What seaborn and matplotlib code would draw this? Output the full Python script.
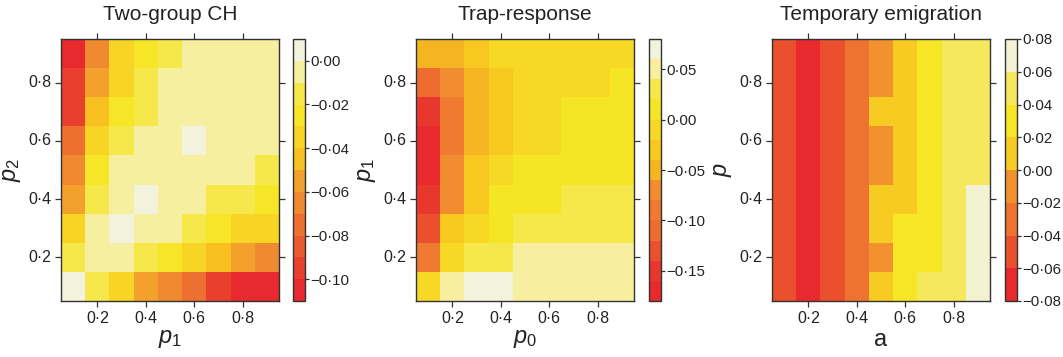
import numpy as np
import pandas as pd
import matplotlib
matplotlib.use('Agg')
import matplotlib.pyplot as plt
from matplotlib.colors import ListedColormap
from matplotlib.ticker import FuncFormatter
import seaborn as sns

# grid of parameter values (columns = x parameter, rows = y parameter, top row = 0.9)
grid = [0.1, 0.2, 0.3, 0.4, 0.5, 0.6, 0.7, 0.8, 0.9]
rows_top_down = grid[::-1]

# Two-group CH: x = p1, y = p2
two_group = [
    [-0.105, -0.065, -0.035, -0.025, -0.015, -0.005, -0.005, -0.005, -0.005],
    [-0.095, -0.055, -0.035, -0.015, -0.005, -0.005, -0.005, -0.005, -0.005],
    [-0.095, -0.045, -0.025, -0.015, -0.005, -0.005, -0.005, -0.005, -0.005],
    [-0.075, -0.035, -0.015, -0.005, -0.005, 0.005, -0.005, -0.005, -0.005],
    [-0.065, -0.025, -0.005, -0.005, -0.005, -0.005, -0.005, -0.005, -0.015],
    [-0.055, -0.015, -0.005, 0.005, -0.005, -0.005, -0.015, -0.015, -0.025],
    [-0.035, -0.005, 0.005, -0.005, -0.005, -0.015, -0.025, -0.035, -0.035],
    [-0.015, -0.005, -0.005, -0.015, -0.025, -0.035, -0.045, -0.055, -0.065],
    [0.005, -0.015, -0.035, -0.055, -0.065, -0.075, -0.095, -0.105, -0.105],
]

# Trap-response: x = p0, y = p1
trap_response = [
    [-0.05, -0.05, -0.03, -0.01, -0.01, -0.01, -0.01, -0.01, -0.01],
    [-0.11, -0.07, -0.05, -0.03, -0.01, -0.01, -0.01, -0.01, 0.01],
    [-0.15, -0.09, -0.05, -0.03, -0.01, -0.01, 0.01, 0.01, 0.01],
    [-0.17, -0.09, -0.05, -0.03, -0.01, -0.01, 0.01, 0.01, 0.01],
    [-0.17, -0.07, -0.03, -0.01, 0.01, 0.01, 0.01, 0.01, 0.01],
    [-0.15, -0.07, -0.03, 0.01, 0.01, 0.01, 0.03, 0.03, 0.03],
    [-0.13, -0.03, -0.01, 0.01, 0.03, 0.03, 0.03, 0.03, 0.03],
    [-0.09, -0.01, 0.03, 0.03, 0.05, 0.05, 0.05, 0.05, 0.05],
    [-0.01, 0.05, 0.07, 0.07, 0.05, 0.05, 0.05, 0.05, 0.05],
]

# Temporary emigration: x = a, y = p
temp_emigration = [
    [-0.05, -0.07, -0.05, -0.03, -0.01, 0.01, 0.03, 0.05, 0.05],
    [-0.05, -0.07, -0.05, -0.03, -0.01, 0.01, 0.03, 0.05, 0.05],
    [-0.05, -0.07, -0.05, -0.03, 0.01, 0.01, 0.03, 0.05, 0.05],
    [-0.05, -0.07, -0.05, -0.03, -0.01, 0.01, 0.03, 0.05, 0.05],
    [-0.05, -0.07, -0.05, -0.03, -0.01, 0.01, 0.03, 0.05, 0.05],
    [-0.05, -0.07, -0.05, -0.03, 0.01, 0.01, 0.03, 0.05, 0.07],
    [-0.05, -0.07, -0.05, -0.03, 0.01, 0.03, 0.03, 0.05, 0.07],
    [-0.05, -0.07, -0.05, -0.03, -0.01, 0.03, 0.03, 0.05, 0.07],
    [-0.05, -0.07, -0.05, -0.03, 0.01, 0.03, 0.05, 0.05, 0.07],
]

pal_two = ['#E8292D', '#E8402D', '#EB5A2F', '#EE7030', '#F08A30', '#F3A02C',
           '#F8C020', '#F8D525', '#F7E628', '#F6E84A', '#F7EFA0', '#F3F2DC']
pal_trap = ['#E8292D', '#E8382D', '#EA4F2E', '#EE6C30', '#EF7A30', '#F18C30', '#F5B523',
            '#F8C820', '#F7D825', '#F5E625', '#F6E84A', '#F7EF9F', '#F3F2DC']
pal_temp = ['#E8292D', '#EA4F2E', '#EE7330', '#F1922E', '#F8CB22', '#F6E626', '#F6E85C', '#F3F2D2']

panels = [
    (two_group, 'Two-group CH', '$p_1$', '$p_2$', -0.11, 0.01, pal_two,
     [-0.10, -0.08, -0.06, -0.04, -0.02, 0.00]),
    (trap_response, 'Trap-response', '$p_0$', '$p_1$', -0.18, 0.08, pal_trap,
     [-0.15, -0.10, -0.05, 0.00, 0.05]),
    (temp_emigration, 'Temporary emigration', 'a', '$p$', -0.08, 0.08, pal_temp,
     [-0.08, -0.06, -0.04, -0.02, 0.00, 0.02, 0.04, 0.06, 0.08]),
]

sns.set_style('ticks')
plt.rcParams['font.family'] = ['Liberation Sans', 'DejaVu Sans']
plt.rcParams['mathtext.fontset'] = 'custom'
plt.rcParams['mathtext.it'] = 'Liberation Sans:italic'
plt.rcParams['mathtext.rm'] = 'Liberation Sans'

edge = '#333333'


def dot_fmt(v, nd):
    s = f"{abs(v):.{nd}f}".replace('.', '\u00b7')
    return ('\u2212' + s) if round(v, nd + 2) < 0 else s


fig = plt.figure(figsize=(10.63, 3.57), dpi=100)
W, H = 1063.0, 357.0
ax_left = [61, 416, 772]
cb_left = [293, 649, 1005]
bottom = 1 - 301 / H
height = 262 / H

for i, (vals, title, xl, yl, vmin, vmax, pal, cticks) in enumerate(panels):
    ax = fig.add_axes([ax_left[i] / W, bottom, 218 / W, height])
    cax = fig.add_axes([cb_left[i] / W, bottom, 12 / W, height])
    df = pd.DataFrame(vals, index=rows_top_down, columns=grid)
    sns.heatmap(df, ax=ax, cbar_ax=cax, cmap=ListedColormap(pal),
                vmin=vmin, vmax=vmax, cbar_kws={'ticks': cticks})

    # ticks at 0.2..0.8 -> cell centres
    xt = [grid.index(v) + 0.5 for v in [0.2, 0.4, 0.6, 0.8]]
    yt = [rows_top_down.index(v) + 0.5 for v in [0.8, 0.6, 0.4, 0.2]]
    ax.set_xticks(xt)
    ax.set_xticklabels([dot_fmt(v, 1) for v in [0.2, 0.4, 0.6, 0.8]], rotation=0)
    ax.set_yticks(yt)
    ax.set_yticklabels([dot_fmt(v, 1) for v in [0.8, 0.6, 0.4, 0.2]], rotation=0)
    ax.tick_params(axis='both', direction='out', length=4, width=0.9, color=edge,
                   labelsize=11.5, labelcolor='#222222', top=True, right=True,
                   labeltop=False, labelright=False, pad=3)
    for sp in ax.spines.values():
        sp.set_visible(True)
        sp.set_color(edge)
        sp.set_linewidth(1.0)
    ax.set_title(title, fontsize=15, color='#222222', pad=14)
    ax.set_xlabel(xl, fontsize=17, color='#222222', labelpad=2)
    ax.set_ylabel(yl, fontsize=17, color='#222222', labelpad=4)

    cb = ax.collections[0].colorbar
    cb.outline.set_visible(True)
    cb.outline.set_edgecolor(edge)
    cb.outline.set_linewidth(1.0)
    cb.set_ticks(cticks)
    cb.ax.yaxis.set_major_formatter(FuncFormatter(lambda v, p: dot_fmt(v, 2)))
    cb.ax.tick_params(direction='out', length=3, width=0.9, color=edge,
                      labelsize=10.8, labelcolor='#222222', pad=1)

fig.savefig('out.png', dpi=100)
